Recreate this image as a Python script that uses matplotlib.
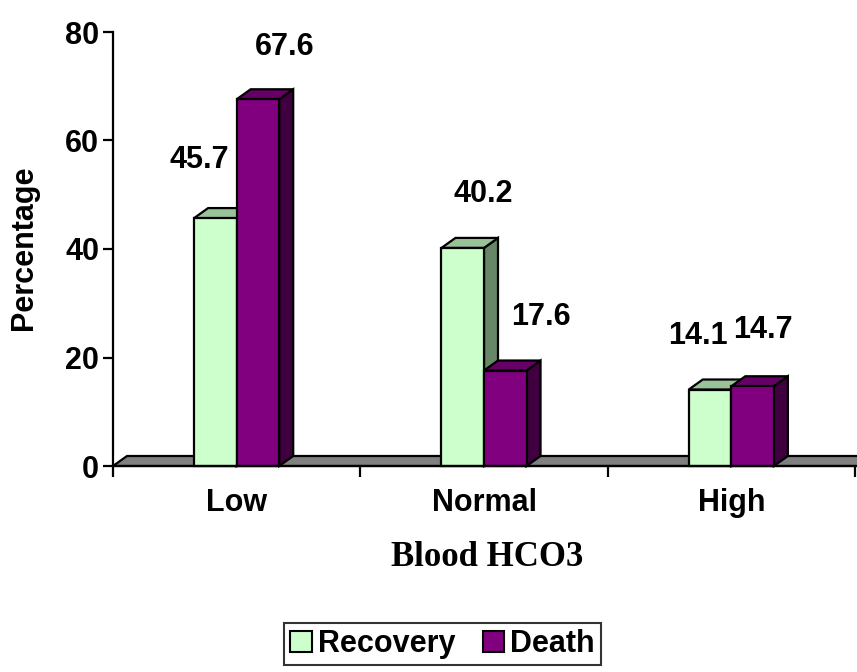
import matplotlib
matplotlib.use('Agg')
import matplotlib.pyplot as plt
from matplotlib.patches import Polygon, Patch

categories = ['Low', 'Normal', 'High']
recovery = [45.7, 40.2, 14.1]
death = [67.6, 17.6, 14.7]

# where each value label sits relative to its bar top (pixels)
rec_label_shift = [(-16, 58), (21, 54), (-12, 54)]
death_label_shift = [(27, 52), (36, 54), (10, 56)]

plt.rcParams['font.family'] = ['Liberation Sans', 'DejaVu Sans']
plt.rcParams['font.weight'] = 'bold'

fig = plt.figure(figsize=(8.57, 6.72), dpi=100)
ax = fig.add_axes([113 / 857, (672 - 466) / 672, 742 / 857, 434 / 672])
ax.set_xlim(0, 3)
ax.set_ylim(0, 80)

bar_w = 0.172
# depth of the fake 3d boxes, 14px right and 10px up
dx = 14 * 3 / 742
dy = 10 * 80 / 434
lw = 1.6
fs = 22


def box(x0, h, front, top, side, z):
    x1 = x0 + bar_w
    kw = dict(ec='black', lw=lw, joinstyle='miter', zorder=z, clip_on=False)
    ax.add_patch(Polygon([(x1, 0), (x1 + dx, dy), (x1 + dx, h + dy), (x1, h)], fc=side, **kw))
    ax.add_patch(Polygon([(x0, h), (x1, h), (x1 + dx, h + dy), (x0 + dx, h + dy)], fc=top, **kw))
    ax.add_patch(Polygon([(x0, 0), (x1, 0), (x1, h), (x0, h)], fc=front, **kw))


# grey floor
ax.add_patch(Polygon([(0, 0), (3.2, 0), (3.2 + dx, dy), (dx, dy)], fc='#808080',
                     ec='black', lw=lw, zorder=1, clip_on=False))

for i in range(len(categories)):
    c = i + 0.5
    box(c - bar_w, recovery[i], '#CCFFCC', '#99C299', '#668866', 2)
    box(c, death[i], '#800080', '#660066', '#400040', 3)
    ax.annotate(f'{recovery[i]:.1f}', (c - bar_w / 2, recovery[i]), xytext=rec_label_shift[i],
                textcoords='offset pixels', ha='center', va='center', fontsize=fs, fontweight='bold')
    ax.annotate(f'{death[i]:.1f}', (c + bar_w / 2, death[i]), xytext=death_label_shift[i],
                textcoords='offset pixels', ha='center', va='center', fontsize=fs, fontweight='bold')

for s in ['top', 'right']:
    ax.spines[s].set_visible(False)
ax.spines['left'].set_linewidth(lw)
ax.spines['bottom'].set_linewidth(lw)
ax.spines['bottom'].set_zorder(5)

ax.set_yticks([0, 20, 40, 60, 80])
ax.tick_params(axis='y', direction='out', length=7, width=lw, labelsize=fs, pad=3)
ax.set_xticks([0, 1, 2, 3])
ax.set_xticklabels([])
ax.tick_params(axis='x', which='major', direction='out', length=8, width=lw)
ax.set_xticks([0.5, 1.5, 2.5], minor=True)
ax.set_xticklabels(categories, minor=True)
ax.tick_params(axis='x', which='minor', length=0, labelsize=fs, pad=16)
for t in ax.get_xticklabels(minor=True) + ax.get_yticklabels():
    t.set_fontweight('bold')

fig.text(24 / 857, 1 - 248 / 672, 'Percentage', rotation=90, ha='center', va='center',
         fontsize=fs, fontweight='bold')
fig.text(487 / 857, 1 - 558 / 672, 'Blood HCO3', ha='center', va='center', fontsize=25,
         fontweight='bold', family='Liberation Serif')

handles = [Patch(fc='#CCFFCC', ec='black', lw=1.5, label='Recovery'),
           Patch(fc='#800080', ec='black', lw=1.5, label='Death')]
leg = fig.legend(handles=handles, loc='upper right', bbox_to_anchor=(601 / 857, 1 - 623 / 672),
                 ncol=2, fontsize=fs, frameon=True, fancybox=False, handlelength=0.7,
                 handleheight=0.7, handletextpad=0.2, columnspacing=0.9, borderpad=0.2,
                 borderaxespad=0)
leg.get_frame().set_edgecolor('black')
leg.get_frame().set_linewidth(1.5)
for t in leg.get_texts():
    t.set_fontweight('bold')

plt.savefig('out.png', dpi=100)
